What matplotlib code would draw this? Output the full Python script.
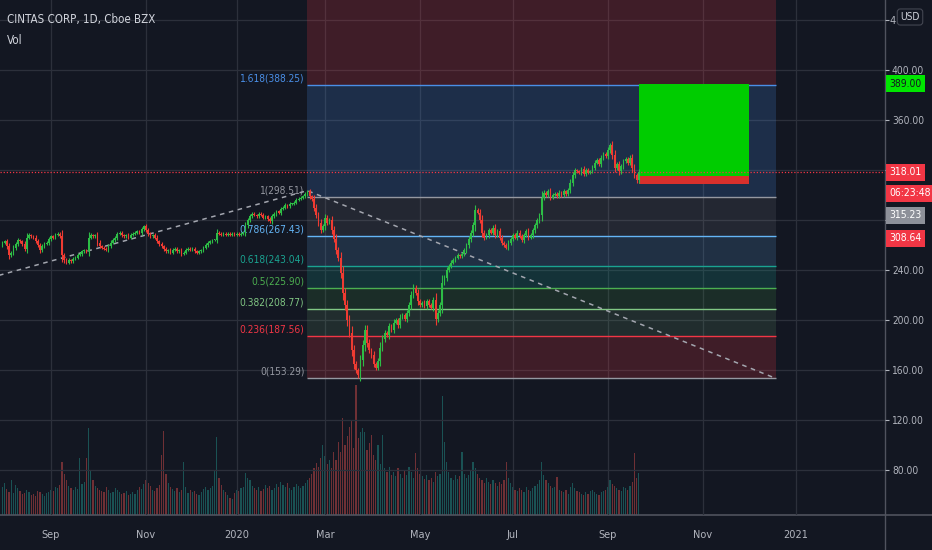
import numpy as np
import pandas as pd
import matplotlib
matplotlib.use("Agg")
import matplotlib.pyplot as plt
import matplotlib.transforms as mtransforms
from matplotlib.lines import Line2D
from matplotlib.patches import Rectangle

plt.rcParams["font.family"] = ["DejaVu Sans"]
plt.rcParams["font.stretch"] = "condensed"

BG = "#131722"
GRID = "#2c303b"
TEXT = "#b2b5be"
UP = "#2dbd46"
DOWN = "#ef3b32"

# trading calendar (NYSE holidays inside the visible range)
HOLIDAYS = ["2019-09-02", "2019-11-28", "2019-12-25", "2020-01-01", "2020-01-20",
            "2020-02-17", "2020-04-10", "2020-05-25", "2020-07-03", "2020-09-07",
            "2020-11-26", "2020-12-25", "2021-01-01"]

# daily closes
CLOSE_AUG19 = [262, 263, 259, 252, 254, 258, 261, 264, 263, 261, 257, 266, 268, 267, 266, 263, 260, 256, 259, 261, 262, 265]
CLOSE_SEP19 = [267, 266, 268, 269, 267, 252, 248, 246, 248, 247, 249, 250, 252, 253, 255, 256, 255, 266, 268, 267]
CLOSE_OCT19 = [268, 262, 259, 258, 257, 256, 259, 262, 264, 266, 269, 270, 268, 267, 268, 266, 268, 269, 270, 271, 270, 273, 275]
CLOSE_NOV19 = [272, 269, 267, 268, 266, 263, 261, 259, 257, 255, 256, 254, 256, 257, 255, 256, 253, 254, 256, 257]
CLOSE_DEC19 = [256, 257, 255, 254, 255, 256, 258, 260, 262, 263, 264, 264, 270, 269, 268, 269, 268, 269, 268, 269, 268]
CLOSE_JAN20 = [269, 268, 269, 270, 276, 280, 283, 285, 284, 283, 285, 284, 282, 283, 281, 279, 283, 285, 287, 286, 289]
CLOSE_FEB20 = [290, 292, 291, 293, 293, 294, 296, 297, 298, 299, 301, 303, 299, 297, 290, 284, 278, 272, 275]
CLOSE_MAR20 = [282, 278, 280, 272, 265, 256, 250, 238, 222, 212, 200, 190, 176, 165, 160, 156, 168, 180, 192, 182, 176, 172]
CLOSE_APR20 = [165, 162, 167, 178, 185, 190, 188, 195, 192, 198, 200, 196, 202, 204, 201, 206, 212, 220, 226, 222, 215]
CLOSE_MAY20 = [212, 214, 211, 215, 212, 210, 216, 201, 206, 212, 230, 234, 240, 243, 246, 248, 250, 252, 251, 253]
CLOSE_JUN20 = [256, 260, 265, 270, 276, 288, 286, 280, 270, 266, 268, 272, 270, 274, 268, 271, 266, 262, 260, 258, 262, 265]
CLOSE_JUL20 = [268, 266, 270, 267, 264, 268, 271, 266, 268, 272, 276, 280, 284, 298, 302, 300, 303, 298, 300, 301, 299, 302]
CLOSE_AUG20 = [300, 303, 301, 304, 310, 316, 320, 319, 318, 321, 317, 320, 318, 319, 322, 326, 328, 325, 330, 333, 331]
CLOSE_SEP20 = [336, 340, 332, 322, 325, 319, 323, 327, 329, 326, 330, 322, 316, 312, 318.01]
FIRST_OPEN = 260.0

# daily volume, thousands of shares
VOL_AUG19 = [420, 480, 390, 350, 520, 330, 450, 400, 360, 310, 330, 380, 350, 300, 320, 290, 360, 340, 310, 280, 330, 350]
VOL_SEP19 = [380, 360, 420, 400, 450, 800, 620, 520, 430, 400, 380, 420, 390, 850, 460, 500, 850, 1300, 680, 520]
VOL_OCT19 = [440, 400, 380, 360, 350, 420, 380, 330, 350, 400, 370, 340, 310, 330, 360, 300, 320, 350, 310, 380, 420, 390, 460]
VOL_NOV19 = [520, 480, 430, 380, 360, 410, 450, 900, 1260, 620, 480, 420, 390, 360, 400, 350, 380, 800, 420, 330]
VOL_DEC19 = [380, 340, 360, 320, 300, 350, 390, 420, 380, 400, 440, 680, 1170, 560, 450, 380, 340, 300, 260, 240, 330]
VOL_JAN20 = [380, 360, 400, 420, 630, 560, 520, 440, 400, 380, 420, 360, 390, 450, 410, 430, 380, 400, 460, 420, 500]
VOL_FEB20 = [450, 420, 480, 400, 380, 420, 460, 440, 400, 430, 480, 520, 560, 620, 700, 780, 720, 860, 1050]
VOL_MAR20 = [880, 760, 820, 700, 940, 820, 1100, 950, 1450, 1050, 1180, 1320, 1420, 1000, 1950, 1150, 1250, 1300, 1240, 980, 1080, 1200]
VOL_APR20 = [900, 820, 1050, 760, 1200, 700, 650, 720, 600, 640, 580, 700, 620, 560, 680, 600, 720, 640, 560, 930, 700]
VOL_MAY20 = [620, 580, 540, 600, 520, 560, 500, 640, 580, 620, 1790, 1100, 800, 650, 560, 520, 600, 540, 580, 950]
VOL_JUN20 = [620, 560, 600, 680, 800, 700, 620, 560, 520, 480, 560, 500, 460, 520, 480, 440, 500, 460, 520, 800, 560, 480]
VOL_JUL20 = [420, 380, 360, 400, 380, 340, 420, 380, 360, 400, 440, 460, 520, 800, 600, 520, 480, 440, 400, 420, 570, 380]
VOL_AUG20 = [360, 340, 380, 320, 420, 480, 400, 360, 340, 320, 300, 340, 320, 360, 380, 340, 320, 300, 340, 360, 380]
VOL_SEP20 = [420, 520, 460, 440, 400, 380, 360, 420, 400, 380, 440, 500, 930, 560, 630]

# trend-based fib extension
FIB_RATIOS = [0, 0.236, 0.382, 0.5, 0.618, 0.786, 1, 1.618, 2.618]
FIB_PRICES = [153.29, 187.56, 208.77, 225.90, 243.04, 267.43, 298.51, 388.25, 533.47]
FIB_COLORS = ["#9598a1", "#f23645", "#81c784", "#4caf50", "#1aa391", "#64b5f6", "#9598a1", "#4a8fe7", "#f23645"]
FIB_FILL_ALPHA = [0.0, 0.20, 0.13, 0.15, 0.20, 0.16, 0.13, 0.20, 0.20]
FIB_START_BAR, FIB_END_BAR = 138, 350
TREND_BARS = [-161, 138, 350]
TREND_PRICES = [158.28, 303.50, 153.29]

# long position tool
LONG_START_BAR, LONG_END_BAR = 288, 338
LONG_ENTRY, LONG_TARGET, LONG_STOP = 315.23, 389.00, 308.64
LAST_PRICE = 318.01
COUNTDOWN = "06:23:48"

PRICE_TICKS = [80, 120, 160, 200, 240, 280, 320, 360, 400, 440]
COVERED_TICKS = [280, 320, 440]   # hidden under the price tags / USD button

close = np.array(CLOSE_AUG19 + CLOSE_SEP19 + CLOSE_OCT19 + CLOSE_NOV19 + CLOSE_DEC19 + CLOSE_JAN20
                 + CLOSE_FEB20 + CLOSE_MAR20 + CLOSE_APR20 + CLOSE_MAY20 + CLOSE_JUN20 + CLOSE_JUL20
                 + CLOSE_AUG20 + CLOSE_SEP20, dtype=float)
volume = np.array(VOL_AUG19 + VOL_SEP19 + VOL_OCT19 + VOL_NOV19 + VOL_DEC19 + VOL_JAN20 + VOL_FEB20
                  + VOL_MAR20 + VOL_APR20 + VOL_MAY20 + VOL_JUN20 + VOL_JUL20 + VOL_AUG20 + VOL_SEP20, dtype=float)
openp = np.r_[FIRST_OPEN, close[:-1]]
body_top = np.maximum(openp, close)
body_bot = np.minimum(openp, close)
wick = 0.3 * (body_top - body_bot) + 0.8
high = body_top + wick
low = body_bot - wick
idx = np.arange(len(close))
is_up = close >= openp

dates = pd.bdate_range("2019-08-01", "2021-01-29", freq="C", holidays=HOLIDAYS)
month_start = [i for i in range(1, len(dates))
               if dates[i].month != dates[i - 1].month and dates[i].month % 2 == 1]
month_label = [str(dates[i].year) if dates[i].month == 1 else dates[i].strftime("%b") for i in month_start]

fig = plt.figure(figsize=(9.32, 5.5), dpi=100, facecolor=BG)
rect = [0, 35 / 550, 885 / 932, 515 / 550]
ax_vol = fig.add_axes(rect, label="vol", zorder=1)
ax = fig.add_axes(rect, label="price", zorder=2)
XLIM = (-1.09, 399.4)

# volume underlay
ax_vol.set_facecolor(BG)
vol_colors = np.where(is_up, "#26a69a", "#ef5350")
ax_vol.bar(idx, volume, width=0.55, color=vol_colors, alpha=0.42, linewidth=0)
ax_vol.set_xlim(*XLIM)
ax_vol.set_ylim(0, volume.max() * 3.96)
ax_vol.axis("off")

ax.set_facecolor("none")
ax.set_xlim(*XLIM)
ax.set_ylim(44, 456)
for s in ax.spines.values():
    s.set_visible(False)

ax.set_yticks(PRICE_TICKS)
ax.set_yticklabels(["" if v in COVERED_TICKS else f"{v:.2f}" for v in PRICE_TICKS])
ax.yaxis.tick_right()
ax.tick_params(axis="y", colors=TEXT, labelsize=7.3, length=3, width=0.8, pad=2)
ax.set_xticks(month_start)
ax.set_xticklabels(month_label)
ax.tick_params(axis="x", colors=TEXT, labelsize=7.8, length=0, pad=11)
ax.grid(True, color=GRID, linewidth=0.9)
ax.set_axisbelow(True)

# fib bands, lines and labels
for k in range(len(FIB_PRICES) - 1):
    ax.add_patch(Rectangle((FIB_START_BAR, FIB_PRICES[k]), FIB_END_BAR - FIB_START_BAR,
                           FIB_PRICES[k + 1] - FIB_PRICES[k], facecolor=FIB_COLORS[k + 1],
                           alpha=FIB_FILL_ALPHA[k + 1], linewidth=0, zorder=1))
for r, p, c in zip(FIB_RATIOS, FIB_PRICES, FIB_COLORS):
    ax.hlines(p, FIB_START_BAR, FIB_END_BAR, colors=c, linewidth=1.0, zorder=2)
    ax.annotate(f"{r:g}({p:.2f})", (FIB_START_BAR, p), xytext=(-3, 1.5), textcoords="offset pixels",
                ha="right", va="bottom", color=c, fontsize=7.3, annotation_clip=True, zorder=3)

ax.plot(TREND_BARS, TREND_PRICES, color="#a3a6af", linewidth=1.1, linestyle=(0, (3, 3)), zorder=3)

# candles
candle_colors = np.where(is_up, UP, DOWN)
ax.vlines(idx, low, high, colors=candle_colors, linewidth=0.8, zorder=5)
ax.bar(idx, np.maximum(body_top - body_bot, 0.5), bottom=body_bot, width=0.75,
       color=candle_colors, linewidth=0, zorder=6)

# long position
ax.add_patch(Rectangle((LONG_START_BAR, LONG_ENTRY), LONG_END_BAR - LONG_START_BAR,
                       LONG_TARGET - LONG_ENTRY, facecolor="#00cc00", linewidth=0, zorder=4))
ax.add_patch(Rectangle((LONG_START_BAR, LONG_STOP), LONG_END_BAR - LONG_START_BAR,
                       LONG_ENTRY - LONG_STOP, facecolor="#d8302c", linewidth=0, zorder=4))

ax.axhline(LAST_PRICE, color="#f23645", linewidth=0.9, linestyle=(0, (1, 1.5)), zorder=4)

# price-scale tags
yt = mtransforms.blended_transform_factory(ax.transAxes, ax.transData)
def tag(price, text, fc, tc, dy=0, pad=0.32):
    ax.annotate(text, (1.0, price), xycoords=yt, xytext=(4, dy), textcoords="offset pixels",
                ha="left", va="center", fontsize=7.5, color=tc, annotation_clip=False, zorder=10,
                bbox=dict(boxstyle=f"square,pad={pad}", fc=fc, ec="none"))

tag(LONG_TARGET, f"{LONG_TARGET:.2f}", "#00e600", "#131722")
tag(LAST_PRICE, f"{LAST_PRICE:.2f}", "#f23645", "white")
tag(LAST_PRICE, COUNTDOWN, "#f23645", "white", dy=-21)
tag(LAST_PRICE, f"{LONG_ENTRY:.2f}", "#8d9099", "white", dy=-43)
tag(LAST_PRICE, f"{LONG_STOP:.2f}", "#f23645", "white", dy=-66)

fig.text(889 / 932, 1 - 21 / 550, "4", ha="left", va="center", color=TEXT, fontsize=7.8)
fig.text(910 / 932, 1 - 17 / 550, "USD", ha="center", va="center", color="#d1d4dc", fontsize=7.3,
         bbox=dict(boxstyle="round,pad=0.3", fc=BG, ec="#434651", lw=0.8), zorder=11)

# header
fig.text(7 / 932, 1 - 20 / 550, "CINTAS CORP, 1D, Cboe BZX", ha="left", va="center",
         color="#d1d4dc", fontsize=8.3)
fig.text(7 / 932, 1 - 40 / 550, "Vol", ha="left", va="center", color="#d1d4dc", fontsize=8.3)

# pane separators
fig.add_artist(Line2D([0, 1], [35 / 550, 35 / 550], color="#50535e", linewidth=1.2))
fig.add_artist(Line2D([885 / 932, 885 / 932], [0, 1], color="#50535e", linewidth=1.0))

fig.savefig("out.png", dpi=100, facecolor=BG)
